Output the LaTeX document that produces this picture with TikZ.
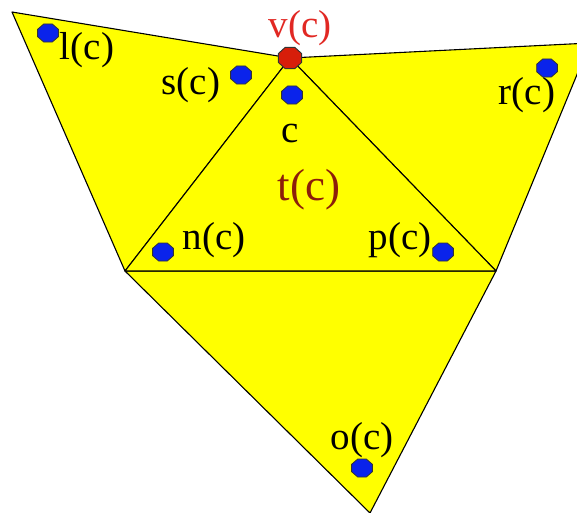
\documentclass[tikz,border=0pt]{standalone}
\usepackage{fontspec}
\setmainfont{Liberation Serif}
\usetikzlibrary{shapes.geometric}
\definecolor{meshyellow}{RGB}{255,255,0}
\definecolor{dotblue}{RGB}{10,35,235}
\definecolor{dotred}{RGB}{215,30,10}
\definecolor{labred}{RGB}{225,40,35}
\definecolor{labbrown}{RGB}{140,30,10}
\tikzset{
  tri/.style={fill=meshyellow, draw=black, line width=1.1pt, line join=round},
  bluedot/.style={regular polygon, regular polygon sides=8, minimum size=19.5pt, inner sep=0pt,
    xscale=1.15, transform shape, fill=dotblue, draw=black!80, line width=0.8pt},
  reddot/.style={regular polygon, regular polygon sides=8, minimum size=23pt, inner sep=0pt,
    xscale=1.1, transform shape, fill=dotred, draw=black!80, line width=0.9pt},
  lab/.style={font=\fontsize{39}{42}\selectfont, inner sep=0pt, text=black},
}
\begin{document}
\begin{tikzpicture}[x=1pt,y=-1pt]
\useasboundingbox (0,0) rectangle (577,512);
\clip (0,0) rectangle (577,512);
\coordinate (TL) at (12,12);
\coordinate (V) at (290,58);
\coordinate (TR) at (590,43);
\coordinate (NL) at (125,271);
\coordinate (NR) at (496,271);
\coordinate (B) at (370,513);
% triangles
\draw[tri] (TL) -- (V) -- (NL) -- cycle;
\draw[tri] (V) -- (TR) -- (NR) -- cycle;
\draw[tri] (NL) -- (NR) -- (B) -- cycle;
\draw[tri] (V) -- (NL) -- (NR) -- cycle;
% corner dots
\node[bluedot] (dl) at (48,33) {};
\node[bluedot] (ds) at (241,75) {};
\node[bluedot] (dc) at (292,95) {};
\node[bluedot] (dr) at (547,68) {};
\node[bluedot] (dn) at (163,252) {};
\node[bluedot] (dp) at (443,252) {};
\node[bluedot] (do) at (362,468) {};
\node[reddot] (dv) at (V) {};
% labels
\node[lab] (ll) at (87,50) {l(c)};
\node[lab] (ls) at (191,85) {s(c)};
\node[lab, text=labred] (lv) at (300,28) {v(c)};
\node[lab] (lc) at (290,133) {c};
\node[lab] (lr) at (527,95) {r(c)};
\node[lab, text=labbrown, font=\fontsize{45}{48}\selectfont] (lt) at (309,190) {t(c)};
\node[lab] (ln) at (214,240) {n(c)};
\node[lab] (lp) at (400,240) {p(c)};
\node[lab] (lo) at (362,440) {o(c)};
\end{tikzpicture}
\end{document}
